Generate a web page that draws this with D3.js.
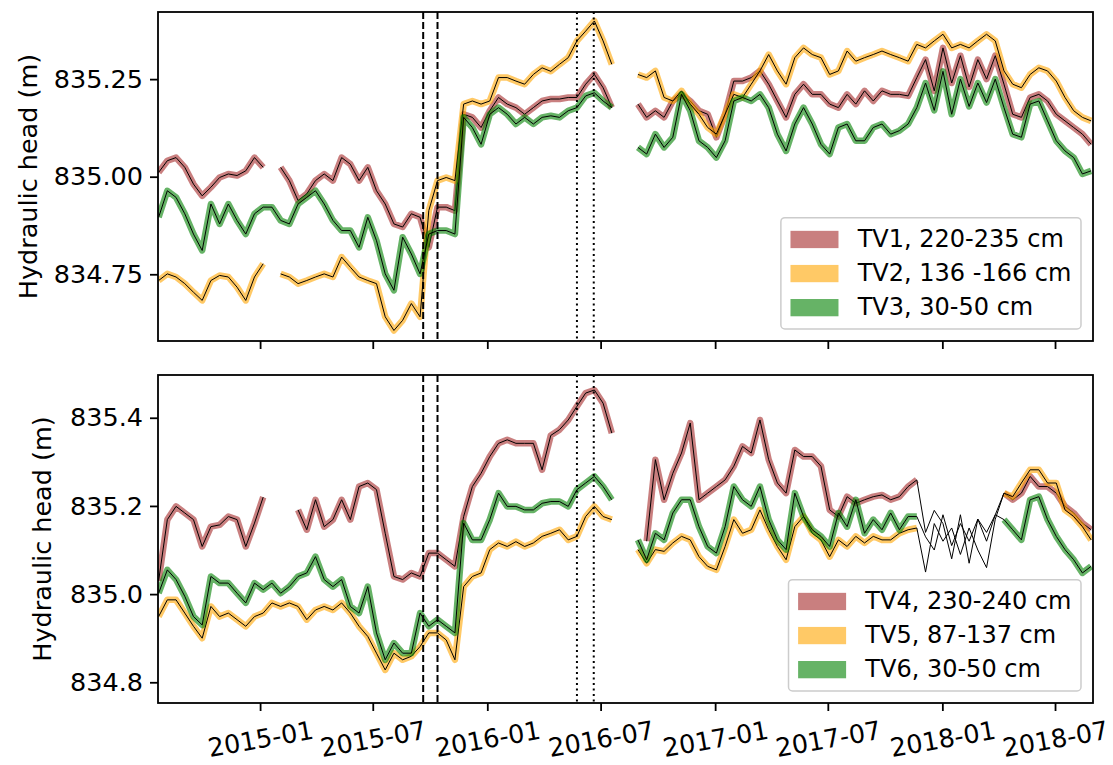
<!DOCTYPE html>
<html>
<head>
<meta charset="utf-8">
<script src="https://cdn.jsdelivr.net/npm/d3@7"></script>
<style>
  body { margin: 0; background: #fff; }
  svg { font-family: "DejaVu Sans", sans-serif; }
</style>
</head>
<body>
<svg width="1113" height="765"></svg>
<script>
// every series is sampled on the same grid: one value every 14 days
let gridStart = "2014-07-22";
let gridStep = 14;

// upper panel (m), null = no data
let tv1 = [
  835.011, 835.041, 835.049, 835.024, 834.981, 834.951, 834.973, 834.998, 835.007, 835.003,
  835.015, 835.049, 835.024, null, 835.024, 834.990, 834.939, 834.956, 834.990, 835.007,
  834.990, 835.049, 835.032, 834.990, 835.024, 834.964, 834.930, 834.879, 834.871, 834.905,
  834.896, 834.819, 834.922, 834.922, 834.913, 835.160, 835.152, 835.126, 835.169, 835.203,
  835.186, 835.177, 835.160, 835.177, 835.194, 835.199, 835.199, 835.203, 835.203, 835.237,
  835.262, 835.228, 835.177, null, null, 835.186, 835.152, 835.169, 835.152, 835.194,
  835.211, 835.194, 835.169, 835.160, 835.101, 835.160, 835.245, 835.245, 835.254, 835.271,
  835.237, 835.194, 835.152, 835.211, 835.237, 835.211, 835.211, 835.186, 835.177, 835.211,
  835.186, 835.220, 835.194, 835.220, 835.211, 835.211, 835.207, 835.254, 835.300, 835.220,
  835.330, 835.240, 835.310, 835.230, 835.300, 835.250, 835.310, 835.237, 835.160, 835.152,
  835.203, 835.211, 835.194, 835.160, 835.143, 835.126, 835.109, 835.083
];
let tv2 = [
  834.734, 834.751, 834.743, 834.726, 834.704, 834.683, 834.734, 834.747, 834.743, 834.717,
  834.683, 834.743, 834.777, null, 834.751, 834.743, 834.726, 834.734, 834.743, 834.751,
  834.743, 834.794, 834.768, 834.743, 834.734, 834.726, 834.641, 834.606, 834.632, 834.675,
  834.641, 834.913, 834.990, 834.998, 834.990, 835.186, 835.194, 835.186, 835.194, 835.254,
  835.254, 835.245, 835.237, 835.262, 835.279, 835.270, 835.288, 835.305, 835.348, 835.373,
  835.399, 835.348, 835.288, null, null, 835.262, 835.254, 835.271, 835.203, 835.194,
  835.220, 835.186, 835.160, 835.126, 835.109, 835.160, 835.211, 835.203, 835.237, 835.271,
  835.313, 835.271, 835.237, 835.305, 835.330, 835.313, 835.305, 835.262, 835.271, 835.322,
  835.296, 835.305, 835.313, 835.322, 835.313, 835.305, 835.296, 835.339, 835.330, 835.348,
  835.365, 835.330, 835.339, 835.330, 835.348, 835.365, 835.348, 835.271, 835.237, 835.228,
  835.262, 835.279, 835.271, 835.245, 835.203, 835.169, 835.152, 835.143
];
let tv3 = [
  834.896, 834.964, 834.947, 834.905, 834.853, 834.811, 834.930, 834.879, 834.930, 834.888,
  834.853, 834.905, 834.922, 834.922, 834.888, 834.879, 834.930, 834.947, 834.964, 834.930,
  834.888, 834.862, 834.862, 834.819, 834.896, 834.836, 834.751, 834.709, 834.845, 834.802,
  834.751, 834.853, 834.862, 834.862, 834.853, 835.152, 835.126, 835.083, 835.160, 835.177,
  835.160, 835.135, 835.152, 835.135, 835.152, 835.156, 835.152, 835.169, 835.177, 835.207,
  835.215, 835.194, 835.177, null, null, 835.075, 835.058, 835.109, 835.075, 835.101,
  835.211, 835.169, 835.092, 835.075, 835.049, 835.092, 835.194, 835.203, 835.194, 835.211,
  835.177, 835.109, 835.066, 835.135, 835.177, 835.135, 835.083, 835.058, 835.126, 835.135,
  835.092, 835.092, 835.126, 835.135, 835.109, 835.118, 835.135, 835.177, 835.240, 835.170,
  835.270, 835.160, 835.250, 835.180, 835.240, 835.190, 835.250, 835.177, 835.109, 835.101,
  835.186, 835.194, 835.143, 835.092, 835.066, 835.049, 835.007, 835.015
];

// lower panel (m)
let tv4 = [
  835.030, 835.169, 835.199, 835.184, 835.169, 835.108, 835.153, 835.157, 835.176, 835.169,
  835.108, 835.161, 835.220, null, null, null, 835.191, 835.146, 835.214, 835.153,
  835.169, 835.214, 835.169, 835.244, 835.252, 835.237, 835.138, 835.040, 835.033, 835.048,
  835.040, 835.093, 835.093, 835.078, 835.063, 835.176, 835.244, 835.274, 835.312, 835.342,
  835.350, 835.342, 835.342, 835.342, 835.282, 835.360, 835.373, 835.395, 835.426, 835.456,
  835.463, 835.433, 835.365, null, null, null, 835.120, 835.305, 835.214, 835.274,
  835.320, 835.388, 835.214, 835.229, 835.244, 835.259, 835.290, 835.335, 835.320, 835.395,
  835.305, 835.252, 835.229, 835.327, 835.312, 835.312, 835.290, 835.191, 835.176, 835.221,
  835.206, 835.214, 835.221, 835.225, 835.214, 835.221, 835.244, 835.259, 835.140, 835.190,
  835.160, 835.080, 835.180, 835.070, 835.170, 835.120, 835.180, 835.229, 835.214, 835.229,
  835.267, 835.244, 835.244, 835.229, 835.199, 835.184, 835.161, 835.146
];
let tv5 = [
  834.949, 834.987, 834.987, 834.957, 834.927, 834.900, 834.972, 834.949, 834.957, 834.942,
  834.927, 834.949, 834.957, 834.980, 834.972, 834.980, 834.972, 834.942, 834.964, 834.972,
  834.964, 834.980, 834.957, 834.927, 834.904, 834.866, 834.828, 834.866, 834.851, 834.859,
  834.881, 834.912, 834.912, 834.896, 834.851, 835.017, 835.040, 835.048, 835.101, 835.116,
  835.108, 835.119, 835.108, 835.116, 835.131, 835.138, 835.146, 835.123, 835.131, 835.176,
  835.199, 835.176, 835.169, null, null, 835.101, 835.070, 835.101, 835.097, 835.116,
  835.131, 835.123, 835.085, 835.063, 835.055, 835.108, 835.169, 835.138, 835.146, 835.191,
  835.146, 835.108, 835.078, 835.153, 835.176, 835.138, 835.123, 835.085, 835.123, 835.108,
  835.131, 835.116, 835.131, 835.123, 835.123, 835.138, 835.146, 835.150, 835.050, 835.160,
  835.120, 835.150, 835.090, 835.150, 835.100, 835.060, 835.170, 835.229, 835.221, 835.252,
  835.282, 835.282, 835.252, 835.252, 835.191, 835.176, 835.153, 835.123
];
let tv6 = [
  835.002, 835.055, 835.033, 834.995, 834.949, 834.930, 835.040, 835.025, 835.025, 835.002,
  834.980, 835.025, 835.010, 835.025, 835.002, 835.017, 835.040, 835.048, 835.085, 835.033,
  835.017, 835.033, 834.972, 834.957, 835.017, 834.912, 834.851, 834.889, 834.866, 834.866,
  834.957, 834.927, 834.942, 834.927, 834.912, 835.161, 835.123, 835.123, 835.169, 835.229,
  835.199, 835.199, 835.191, 835.191, 835.206, 835.210, 835.210, 835.199, 835.237, 835.252,
  835.267, 835.244, 835.214, null, null, 835.123, 835.078, 835.138, 835.123, 835.184,
  835.214, 835.214, 835.153, 835.108, 835.093, 835.153, 835.244, 835.214, 835.199, 835.244,
  835.169, 835.123, 835.101, 835.229, 835.176, 835.146, 835.131, 835.108, 835.184, 835.153,
  835.214, 835.138, 835.169, 835.146, 835.184, 835.146, 835.176, 835.176, 835.130, 835.100,
  835.180, 835.110, 835.160, 835.120, 835.170, 835.140, 835.180, 835.169, 835.146, 835.123,
  835.214, 835.221, 835.169, 835.131, 835.101, 835.078, 835.048, 835.063
];

let topLabels = ["TV1, 220-235 cm", "TV2, 136 -166 cm", "TV3, 30-50 cm"];
let bottomLabels = ["TV4, 230-240 cm", "TV5, 87-137 cm", "TV6, 30-50 cm"];
let colors = ["brown", "orange", "green"];

let xTicks = ["2015-01-01", "2015-07-01", "2016-01-01", "2016-07-01",
              "2017-01-01", "2017-07-01", "2018-01-01", "2018-07-01"];
let topTicks = [834.75, 835.00, 835.25];
let bottomTicks = [834.8, 835.0, 835.2, 835.4];

// vertical markers
let dashedDates = ["2015-09-20", "2015-10-13"];
let dottedDates = ["2016-05-24", "2016-06-20"];

// lower panel has no spread band in this window
let noBandPeriod = ["2017-12-01", "2018-04-01"];

let parse = d3.timeParse("%Y-%m-%d");
let start = parse(gridStart);
let dates = d3.range(tv1.length).map(i => d3.timeDay.offset(start, i * gridStep));

let svg = d3.select("svg");
let fontSize = 25.5;   // ticks and axis label
let legendSize = 24;   // legend entries

let x = d3.scaleTime()
  .domain([parse("2014-07-21"), parse("2018-08-31")])
  .range([158, 1093]);

var drawPanel = function(p) {
  let y = d3.scaleLinear().domain(p.yDomain).range([p.bottom, p.top]);
  let g = svg.append("g");

  // clip so the bands stay inside the frame
  g.append("clipPath").attr("id", p.id + "-clip")
    .append("rect")
    .attr("x", x.range()[0]).attr("y", p.top)
    .attr("width", x.range()[1] - x.range()[0])
    .attr("height", p.bottom - p.top);

  let plot = g.append("g").attr("clip-path", "url(#" + p.id + "-clip)");

  let gap = p.noBand ? p.noBand.map(parse) : null;
  let inGap = function(d) {
    return gap && d >= gap[0] && d <= gap[1];
  };

  let band = d3.line()
    .defined((v, i) => v != null && !inGap(dates[i]))
    .x((v, i) => x(dates[i]))
    .y(v => y(v));

  let line = d3.line()
    .defined(v => v != null)
    .x((v, i) => x(dates[i]))
    .y(v => y(v));

  p.series.forEach(function(s, k) {
    plot.append("path")
      .attr("d", band(s))
      .attr("fill", "none")
      .attr("stroke", colors[k])
      .attr("stroke-opacity", 0.6)
      .attr("stroke-width", 6.5)
      .attr("stroke-linejoin", "round");
    plot.append("path")
      .attr("d", line(s))
      .attr("fill", "none")
      .attr("stroke", "#000")
      .attr("stroke-width", 1)
      .attr("stroke-linejoin", "round");
  });

  // dashed and dotted event lines
  let marks = dashedDates.map(d => ({date: d, dash: "7,3"}))
    .concat(dottedDates.map(d => ({date: d, dash: "2,3.5"})));
  g.selectAll("line.mark")
    .data(marks)
    .enter().append("line")
    .attr("class", "mark")
    .attr("x1", d => x(parse(d.date))).attr("x2", d => x(parse(d.date)))
    .attr("y1", p.top).attr("y2", p.bottom)
    .attr("stroke", "#000")
    .attr("stroke-width", 2)
    .attr("stroke-dasharray", d => d.dash);

  // axes
  let yAxis = d3.axisLeft(y)
    .tickValues(p.ticks)
    .tickFormat(d3.format(p.fmt))
    .tickSize(8)
    .tickPadding(7);
  let yGroup = g.append("g")
    .attr("transform", "translate(" + x.range()[0] + ",0)")
    .call(yAxis);

  let xAxis = d3.axisBottom(x)
    .tickValues(xTicks.map(parse))
    .tickFormat(p.xLabels ? d3.timeFormat("%Y-%m") : "")
    .tickSize(8);
  let xGroup = g.append("g")
    .attr("transform", "translate(0," + p.bottom + ")")
    .call(xAxis);

  [yGroup, xGroup].forEach(function(a) {
    a.select(".domain").remove();
    a.selectAll(".tick line").attr("stroke", "#000").attr("stroke-width", 1.8);
    a.selectAll(".tick text")
      .attr("fill", "#000")
      .style("font-size", fontSize + "px")
      .style("font-family", "DejaVu Sans");
  });

  if (p.xLabels) {
    // labels tilted by 10 degrees, centred under each tick
    xGroup.selectAll(".tick text")
      .attr("y", 36)
      .attr("dy", "0.35em")
      .attr("text-anchor", "middle")
      .attr("transform", "rotate(-10 0 36)");
  }

  // frame
  g.append("rect")
    .attr("x", x.range()[0]).attr("y", p.top)
    .attr("width", x.range()[1] - x.range()[0])
    .attr("height", p.bottom - p.top)
    .attr("fill", "none")
    .attr("stroke", "#000")
    .attr("stroke-width", 1.8);

  // y label
  g.append("text")
    .attr("transform", "translate(" + p.labelX + "," + ((p.top + p.bottom) / 2) + ") rotate(-90)")
    .attr("text-anchor", "middle")
    .attr("dominant-baseline", "central")
    .style("font-size", fontSize + "px")
    .text("Hydraulic head (m)");

  // legend, lower right corner
  let f = legendSize;
  let leg = g.append("g");
  let box = leg.append("rect")
    .attr("rx", 4)
    .attr("fill", "#fff")
    .attr("fill-opacity", 0.8)
    .attr("stroke", "#ccc")
    .attr("stroke-width", 1.5);
  let texts = [];
  p.labels.forEach(function(lab, k) {
    leg.append("rect")
      .attr("x", 0.4 * f).attr("y", 0.4 * f + 1.42 * f * k + 0.15 * f)
      .attr("width", 2 * f).attr("height", 0.72 * f)
      .attr("fill", colors[k]).attr("fill-opacity", 0.6);
    let t = leg.append("text")
      .attr("x", 3.2 * f).attr("y", 0.4 * f + 1.42 * f * k + 0.5 * f)
      .attr("dominant-baseline", "central")
      .style("font-size", f + "px")
      .text(lab);
    texts.push(t);
  });
  let tw = d3.max(texts, t => t.node().getComputedTextLength());
  let bw = 3.6 * f + tw;
  let bh = 0.8 * f + 1.42 * f * 2 + f;
  box.attr("width", bw).attr("height", bh);
  leg.attr("transform", "translate(" + (x.range()[1] - 12 - bw) + "," + (p.bottom - 12 - bh) + ")");
};

drawPanel({
  id: "top", top: 12, bottom: 341,
  yDomain: [834.579, 835.422],
  ticks: topTicks, fmt: ".2f",
  series: [tv1, tv2, tv3], labels: topLabels,
  xLabels: false, labelX: 28, noBand: null
});

drawPanel({
  id: "bottom", top: 375, bottom: 703,
  yDomain: [834.753, 835.497],
  ticks: bottomTicks, fmt: ".1f",
  series: [tv4, tv5, tv6], labels: bottomLabels,
  xLabels: true, labelX: 42, noBand: noBandPeriod
});
</script>
</body>
</html>
